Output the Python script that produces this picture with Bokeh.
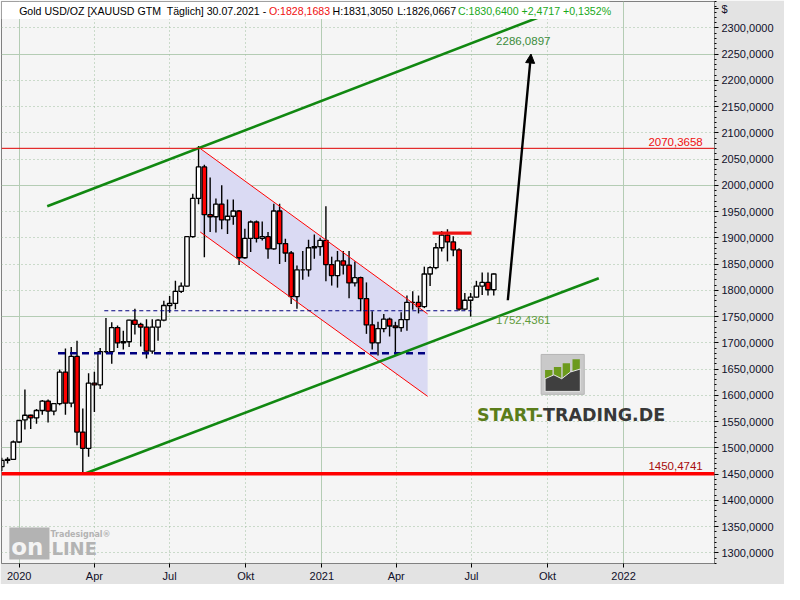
import pandas as pd
from bokeh.plotting import figure
from bokeh.models import (ColumnDataSource, Range1d, FixedTicker, CustomJSTickFormatter,
                          Grid, Span, Label, BoxAnnotation, Arrow, NormalHead)
from bokeh.embed import file_html
from bokeh.resources import INLINE

# ---------------- data (weekly OHLC) ----------------
week_start = [
    "2019-12-09", "2019-12-16", "2019-12-23", "2019-12-30",
    "2020-01-06", "2020-01-13", "2020-01-20", "2020-01-27",
    "2020-02-03", "2020-02-10", "2020-02-17", "2020-02-24",
    "2020-03-02", "2020-03-09", "2020-03-16", "2020-03-23", "2020-03-30",
    "2020-04-06", "2020-04-13", "2020-04-20", "2020-04-27",
    "2020-05-04", "2020-05-11", "2020-05-18", "2020-05-25",
    "2020-06-01", "2020-06-08", "2020-06-15", "2020-06-22", "2020-06-29",
    "2020-07-06", "2020-07-13", "2020-07-20", "2020-07-27",
    "2020-08-03", "2020-08-10", "2020-08-17", "2020-08-24", "2020-08-31",
    "2020-09-07", "2020-09-14", "2020-09-21", "2020-09-28",
    "2020-10-05", "2020-10-12", "2020-10-19", "2020-10-26",
    "2020-11-02", "2020-11-09", "2020-11-16", "2020-11-23", "2020-11-30",
    "2020-12-07", "2020-12-14", "2020-12-21", "2020-12-28",
    "2021-01-04", "2021-01-11", "2021-01-18", "2021-01-25",
    "2021-02-01", "2021-02-08", "2021-02-15", "2021-02-22",
    "2021-03-01", "2021-03-08", "2021-03-15", "2021-03-22", "2021-03-29",
    "2021-04-05", "2021-04-12", "2021-04-19", "2021-04-26",
    "2021-05-03", "2021-05-10", "2021-05-17", "2021-05-24", "2021-05-31",
    "2021-06-07", "2021-06-14", "2021-06-21", "2021-06-28",
    "2021-07-05", "2021-07-12", "2021-07-19", "2021-07-26",
]
w_open = [
    1464, 1476, 1478, 1511,
    1553, 1562, 1557, 1571,
    1589, 1570, 1584, 1644,
    1585, 1674, 1530, 1499, 1623,
    1620, 1683, 1683, 1729,
    1700, 1702, 1743, 1735,
    1730, 1684, 1730, 1743, 1771,
    1775, 1798, 1808, 1902,
    1975, 2035, 1944, 1940, 1964,
    1934, 1941, 1951, 1862,
    1899, 1930, 1899, 1902,
    1879, 1951, 1889, 1871, 1788,
    1839, 1839, 1881, 1883,
    1895, 1849, 1828, 1856,
    1848, 1814, 1824, 1784,
    1734, 1700, 1727, 1745, 1732,
    1729, 1744, 1777, 1777,
    1769, 1831, 1843, 1881, 1905,
    1892, 1877, 1764, 1781,
    1787, 1808, 1815, 1801,
]
w_high = [
    1481, 1482, 1514, 1553,
    1611, 1563, 1574, 1591,
    1592, 1584, 1649, 1689,
    1692, 1704, 1575, 1642, 1645,
    1690, 1747, 1739, 1733,
    1723, 1744, 1765, 1738,
    1745, 1745, 1745, 1780, 1789,
    1818, 1815, 1902, 1984,
    2075, 2039, 2015, 1975, 2000,
    1973, 1973, 1953, 1917,
    1933, 1933, 1931, 1911,
    1965, 1965, 1898, 1875, 1847,
    1875, 1896, 1906, 1900,
    1960, 1864, 1875, 1875,
    1875, 1855, 1826, 1815,
    1760, 1740, 1755, 1748, 1740,
    1758, 1790, 1798, 1790,
    1845, 1846, 1890, 1913, 1916,
    1903, 1880, 1795, 1795,
    1818, 1834, 1834, 1832,
]
w_low = [
    1456, 1470, 1477, 1509,
    1535, 1536, 1546, 1563,
    1548, 1562, 1581, 1563,
    1577, 1505, 1451, 1483, 1568,
    1612, 1680, 1660, 1690,
    1687, 1692, 1716, 1693,
    1670, 1679, 1704, 1741, 1757,
    1764, 1795, 1807, 1900,
    1964, 1863, 1911, 1910, 1916,
    1907, 1925, 1848, 1860,
    1873, 1891, 1895, 1860,
    1877, 1850, 1854, 1774, 1765,
    1820, 1826, 1860, 1866,
    1817, 1809, 1805, 1830,
    1785, 1807, 1760, 1717,
    1687, 1676, 1720, 1712, 1677,
    1721, 1723, 1763, 1756,
    1766, 1808, 1840, 1874, 1855,
    1865, 1761, 1762, 1750,
    1786, 1791, 1790, 1790,
]
w_close = [
    1476, 1478, 1511, 1552,
    1562, 1557, 1571, 1589,
    1570, 1584, 1644, 1585,
    1674, 1530, 1499, 1623, 1620,
    1683, 1683, 1729, 1700,
    1702, 1743, 1735, 1730,
    1684, 1730, 1743, 1771, 1775,
    1798, 1808, 1902, 1975,
    2035, 1944, 1940, 1964, 1934,
    1941, 1951, 1862, 1899,
    1930, 1899, 1902, 1879,
    1951, 1889, 1871, 1788, 1839,
    1839, 1881, 1883, 1895,
    1849, 1828, 1856, 1848,
    1814, 1824, 1784, 1734,
    1700, 1727, 1745, 1732, 1729,
    1744, 1777, 1777, 1769,
    1831, 1843, 1881, 1905, 1892,
    1877, 1764, 1781, 1787,
    1808, 1815, 1801, 1831,
]

header_main = "Gold USD/OZ [XAUUSD GTM\u00a0 Täglich] 30.07.2021 - "
last_open, last_high, last_low, last_close = "1828,1683", "1831,3050", "1826,0667", "1830,6400"
last_change, last_change_pct = "+2,4717", "+0,1352%"

resistance_level = 2070.3658
support_level = 1450.4741
upper_channel_dates = ["2020-02-04", "2021-10-27"]
upper_channel_prices = [1960.0, 2342.0]
lower_channel_dates = ["2020-03-20", "2021-12-02"]
lower_channel_prices = [1450.5, 1823.0]
down_channel_dates = ["2020-08-07", "2021-05-09"]
down_upper_prices = [2070.0, 1755.0]
down_lower_prices = [1911.0, 1598.0]
top_line_dates = ["2021-05-15", "2021-07-01"]
top_line_price = 1909.0
mid_dash_dates = ["2020-04-13", "2021-07-01"]
mid_dash_price = 1761.0
low_dash_dates = ["2020-02-17", "2021-05-09"]
low_dash_price = 1680.0
target_dates = ["2021-08-14", "2021-09-11"]
target_prices = [1781.0, 2250.0]
upper_label_value = "2286,0897"
lower_label_value = "1752,4361"
y_ticks = list(range(1300, 2301, 50))
y_minor = list(range(1280, 2351, 10))
currency_tick = 2336          # where the "$" unit sits on the price axis
x_ticks = ["2020-01-01", "2020-04-01", "2020-07-01", "2020-10-01",
           "2021-01-01", "2021-04-01", "2021-07-01", "2021-10-01", "2022-01-01"]

# ---------------- helpers ----------------
DAY = 86400000.0


def ms(d):
    return pd.Timestamp(d).value / 1e6


ORIGIN = ms("2020-01-01")


def rx(px):   # reference-pixel x -> data x (ms)
    return ORIGIN + (px - 18.0) / 0.8443 * DAY


def ry(py):   # reference-pixel y -> price
    return 2300.0 - (py - 27.0) / 0.54


FONT = "Liberation Sans"

p = figure(width=784, height=584, x_axis_type="datetime", y_axis_location="right",
           x_range=Range1d(rx(0), rx(728)), y_range=Range1d(ry(578), ry(0)),
           output_backend="svg", toolbar_location=None,
           min_border_left=1, min_border_top=1, min_border_right=70, min_border_bottom=20)
p.background_fill_color = "#f5f5f5"
p.border_fill_color = "#e3e3e3"
p.outline_line_color = "#808080"
p.xgrid.visible = False
p.ygrid.visible = False

# ---- grids ----
dot_y = [v for v in y_ticks + [2350] if v % 250 != 0]
sol_y = [v for v in y_ticks if v % 250 == 0]
p.add_layout(Grid(dimension=1, ticker=FixedTicker(ticks=dot_y), grid_line_color="#9fbf9f",
                  grid_line_dash="1 3", level="underlay"))
p.add_layout(Grid(dimension=1, ticker=FixedTicker(ticks=sol_y), grid_line_color="#b4ccb4",
                  level="underlay"))
xt = [ms(d) for d in x_ticks]
dot_x = [ms(d) for d in x_ticks if not d.endswith("01-01")]
sol_x = [ms(d) for d in x_ticks if d.endswith("01-01")]
p.add_layout(Grid(dimension=0, ticker=FixedTicker(ticks=dot_x), grid_line_color="#9fbf9f",
                  grid_line_dash="1 3", level="underlay"))
p.add_layout(Grid(dimension=0, ticker=FixedTicker(ticks=sol_x), grid_line_color="#b4ccb4",
                  level="underlay"))

# ---- axes ----
ya = p.yaxis[0]
ya.ticker = FixedTicker(ticks=y_ticks + [currency_tick], minor_ticks=y_minor)
ya.formatter = CustomJSTickFormatter(
    code="if (tick > 2320) { return '$'; } return tick.toFixed(4).replace('.', ',');")
ya.axis_line_color = "#808080"
ya.major_tick_line_color = "black"
ya.minor_tick_line_color = "black"
ya.major_tick_in = 0
ya.major_tick_out = 4
ya.minor_tick_in = 0
ya.minor_tick_out = 2
ya.major_label_standoff = 3
ya.major_label_text_font = FONT
ya.major_label_text_font_size = "11px"
ya.major_label_text_color = "#10102a"

xa = p.xaxis[0]
xa.ticker = FixedTicker(ticks=xt)
xa.formatter = CustomJSTickFormatter(code="""
const d = new Date(tick);
const m = d.getUTCMonth();
if (m == 0) { return String(d.getUTCFullYear()); }
if (m == 3) { return 'Apr'; }
if (m == 6) { return 'Jul'; }
if (m == 9) { return 'Okt'; }
return '';
""")
xa.axis_line_color = "#808080"
xa.major_tick_line_color = "black"
xa.minor_tick_line_color = None
xa.major_tick_in = 0
xa.major_tick_out = 4
xa.major_label_standoff = 2
xa.major_label_text_align = "left"
xa.major_label_text_font = FONT
xa.major_label_text_font_size = "11px"
xa.major_label_text_color = "#10102a"

# ---- descending channel fill ----
dc = [ms(d) for d in down_channel_dates]
p.patch([dc[0], dc[1], dc[1], dc[0]],
        [down_upper_prices[0], down_upper_prices[1], down_lower_prices[1], down_lower_prices[0]],
        fill_color="#dadaf3", line_color=None)

# ---- candles ----
xs = [ms(d) + 2 * DAY for d in week_start]
src = ColumnDataSource(dict(
    x=xs, o=w_open, h=w_high, l=w_low, c=w_close,
    top=[max(o, c) for o, c in zip(w_open, w_close)],
    bottom=[min(o, c) for o, c in zip(w_open, w_close)],
    fill=["white" if c >= o else "#ff0000" for o, c in zip(w_open, w_close)],
))
p.segment(x0="x", y0="h", x1="x", y1="l", source=src, line_color="black", line_width=1.4)
p.vbar(x="x", width=5.4 * DAY, top="top", bottom="bottom", fill_color="fill",
       line_color="black", line_width=1.3, source=src)

# ---- descending channel lines ----
p.line(dc, down_upper_prices, line_color="#ff0000", line_width=1)
p.line(dc, down_lower_prices, line_color="#ff0000", line_width=1)

# ---- dashed horizontals ----
p.line([ms(d) for d in mid_dash_dates], [mid_dash_price] * 2, line_color="#000080",
       line_width=1.2, line_dash="4 3")
p.line([ms(d) for d in low_dash_dates], [low_dash_price] * 2, line_color="#000080",
       line_width=2.6, line_dash="7 5")
p.line([ms(d) for d in top_line_dates], [top_line_price] * 2, line_color="#ee1111",
       line_width=3.2)

# ---- rising channel ----
p.line([ms(d) for d in upper_channel_dates], upper_channel_prices, line_color="#118811",
       line_width=2.6)
p.line([ms(d) for d in lower_channel_dates], lower_channel_prices, line_color="#118811",
       line_width=2.6)

# ---- horizontal levels ----
p.add_layout(Span(location=resistance_level, dimension="width", line_color="#e00000",
                  line_width=1))
p.add_layout(Span(location=support_level, dimension="width", line_color="#ff0000",
                  line_width=3.5))

# ---- target arrow ----
td = [ms(d) for d in target_dates]
p.add_layout(Arrow(end=NormalHead(size=9, fill_color="black", line_color="black"),
                   x_start=td[0], y_start=target_prices[0], x_end=td[1], y_end=target_prices[1],
                   line_color="black", line_width=2.4))


# ---- value labels ----
def lab(x, y, text, color, size="11.5px", align="left", baseline="middle", font=FONT,
        style="normal"):
    p.add_layout(Label(x=x, y=y, text=text, text_color=color, text_font_size=size,
                       text_align=align, text_baseline=baseline, text_font=font,
                       text_font_style=style))


lab(rx(716), ry(144), "2070,3658", "#f01010", align="right")
lab(rx(716), ry(478), "1450,4741", "#a80c0c", align="right")
lab(rx(505), ry(41), upper_label_value, "#3b8c3b")
lab(rx(505), ry(328), lower_label_value, "#5e9a3a")

# ---- header ----
p.add_layout(BoxAnnotation(left=rx(0), right=rx(621), top=ry(0), bottom=ry(18),
                           fill_color="white", fill_alpha=1, line_color=None))
p.quad(left=[rx(5.5)], right=[rx(10.5)], top=[ry(6)], bottom=[ry(13)], fill_color="white",
       line_color="black", line_width=1)
p.segment(x0=[rx(3)], y0=[ry(9.5)], x1=[rx(5.5)], y1=[ry(9.5)], line_color="black")
p.segment(x0=[rx(10.5)], y0=[ry(9.5)], x1=[rx(13)], y1=[ry(9.5)], line_color="black")
hy = ry(9.5)
lab(rx(18), hy, header_main, "#000000", size="10.6px")
lab(rx(273), hy, "O:" + last_open, "#f01010", size="10.6px")
lab(rx(338), hy, "H:" + last_high, "#000000", size="10.6px")
lab(rx(404), hy, "L:" + last_low, "#000000", size="10.6px")
lab(rx(466), hy, "C:" + last_close + " " + last_change + " " + last_change_pct, "#1aa81a",
    size="10.6px")

# ---- START-TRADING.DE logo ----
p.quad(left=[rx(551)], right=[rx(595)], top=[ry(363)], bottom=[ry(404)],
       fill_color="#c9c9c9", line_color="#b5b5b5")
bars_l = [555, 564, 573, 583]
bars_t = [379, 376, 372, 368]
p.quad(left=[rx(v) for v in bars_l], right=[rx(v + 7.5) for v in bars_l],
       top=[ry(v) for v in bars_t], bottom=[ry(392)] * 4, fill_color="#6c9a1c", line_color=None)
mx = [555, 564, 572, 581, 591, 591, 555]
my = [388, 384, 388, 381, 378, 401, 401]
p.patch([rx(v) for v in mx], [ry(v) for v in my], fill_color="#3f3f3f", line_color="#e8e8e8",
        line_width=1)
lab(rx(553), ry(425), "START-", "#5b7d1a", size="17.5px", align="right", baseline="alphabetic",
    font="DejaVu Sans", style="bold")
lab(rx(553), ry(425), "TRADING.DE", "#383838", size="17.5px", baseline="alphabetic",
    font="DejaVu Sans", style="bold")

# ---- Tradesignal online logo ----
p.quad(left=[rx(8)], right=[rx(49)], top=[ry(541)], bottom=[ry(574)], fill_color="#b3b3b3",
       line_color=None)
lab(rx(10), ry(561), "on", "#f4f4f4", size="23px", baseline="alphabetic",
    font="DejaVu Sans", style="bold")
lab(rx(51), ry(563), "LINE", "#b3b3b3", size="18px", baseline="alphabetic",
    font="DejaVu Sans", style="bold")
lab(rx(50), ry(548), "Tradesignal®", "#b3b3b3", size="8px", baseline="alphabetic",
    font="DejaVu Sans", style="bold")

open("out.html", "w").write(file_html(p, INLINE))
